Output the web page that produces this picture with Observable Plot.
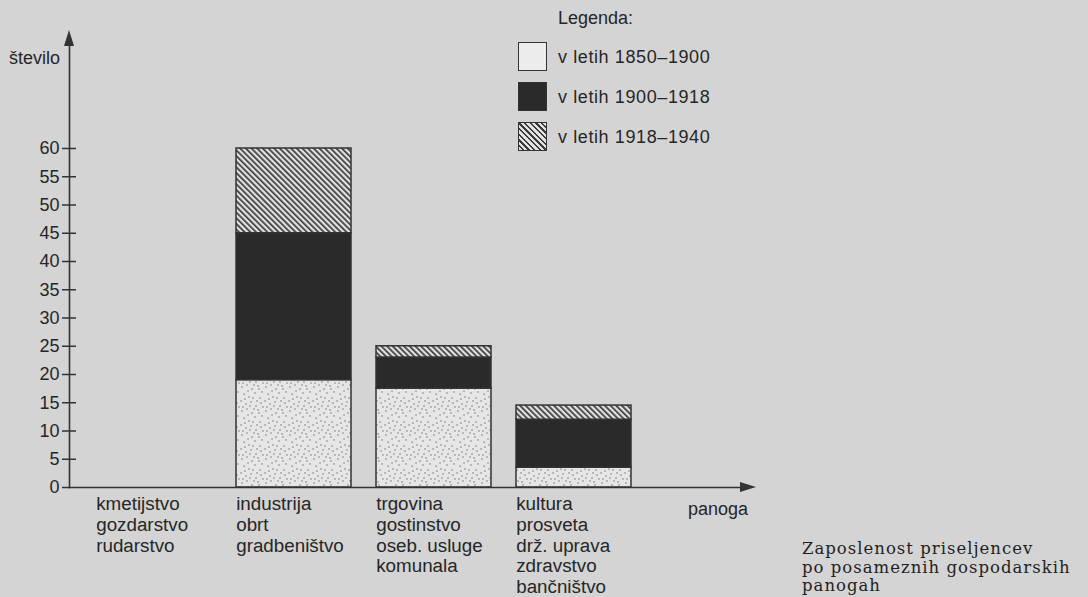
<!DOCTYPE html>
<html><head><meta charset="utf-8">
<script src="https://cdn.jsdelivr.net/npm/d3@7"></script>
<script src="https://cdn.jsdelivr.net/npm/@observablehq/plot@0.6"></script>
<style>
body{margin:0;background:#d4d4d4;}
#wrap{position:relative;width:1088px;height:597px;overflow:hidden;font-family:"Liberation Sans",Arial,sans-serif;color:#262626;}
#wrap svg{position:absolute;left:0;top:0;}
.lbl{position:absolute;font-size:18px;line-height:18px;white-space:nowrap;}
.sw{position:absolute;width:27px;height:27px;border:1.5px solid #333;}
.leg{position:absolute;font-size:18px;line-height:18px;letter-spacing:0.6px;white-space:nowrap;}
#caption{position:absolute;left:802px;top:540px;font-family:"DejaVu Serif",serif;font-size:16.5px;line-height:18.6px;letter-spacing:1px;color:#1f1f1f;white-space:nowrap;}
</style></head><body><div id="wrap"></div>
<script>
const categories = ["kmetijstvo", "industrija", "trgovina", "kultura"];
const categoryLines = [
  ["kmetijstvo", "gozdarstvo", "rudarstvo"],
  ["industrija", "obrt", "gradbeništvo"],
  ["trgovina", "gostinstvo", "oseb. usluge", "komunala"],
  ["kultura", "prosveta", "drž. uprava", "zdravstvo", "bančništvo"]
];
const periods = ["v letih 1850–1900", "v letih 1900–1918", "v letih 1918–1940"];
const values1850_1900 = [0, 19, 17.5, 3.5];
const values1900_1918 = [0, 26, 5.5, 8.5];
const values1918_1940 = [0, 15, 2, 2.5];
const yTicks = [0, 5, 10, 15, 20, 25, 30, 35, 40, 45, 50, 55, 60];
const yLabel = "število";
const xLabel = "panoga";
const legendTitle = "Legenda:";
const captionLines = ["Zaposlenost priseljencev", "po posameznih gospodarskih", "panogah"];

const series = [values1850_1900, values1900_1918, values1918_1940];
const table = [];
categories.forEach((c, i) => periods.forEach((p, j) => table.push({cat: c, period: p, value: series[j][i]})));
const catTable = categories.map((c, i) => ({cat: c, label: categoryLines[i].join("\n")}));

const W = 1088, H = 597, mL = 69, mT = 40, mR = 346, mB = 110;
const ink = "#333";

const plot = Plot.plot({
  width: W, height: H, marginLeft: mL, marginTop: mT, marginRight: mR, marginBottom: mB,
  style: {background: "transparent", fontFamily: "'Liberation Sans', Arial, sans-serif", fontSize: "18px", color: "#262626", overflow: "visible"},
  x: {type: "band", domain: categories, range: [96, 634.6], paddingInner: 0.18, paddingOuter: 0, align: 0, axis: null},
  y: {domain: [0, 60], range: [487, 148], axis: null},
  color: {domain: periods, range: ["url(#dots)", "url(#solid)", "url(#hatch)"]},
  marks: [
    Plot.barY(table.filter(d => d.value > 0), {x: "cat", y: "value", fill: "period", stroke: ink, strokeWidth: 1.5}),
    Plot.axisY(yTicks, {label: null, tickSize: 7, tickPadding: 3, stroke: ink, strokeWidth: 1.5, fontSize: 18, fill: "#262626"}),
    Plot.axisY(yTicks.filter(d => d > 0), {label: null, tickSize: 7, text: null, dx: 7, stroke: ink, strokeWidth: 1.5}),
    Plot.frame({anchor: "left", stroke: ink, strokeWidth: 1.6}),
    Plot.frame({anchor: "bottom", stroke: ink, strokeWidth: 1.6}),
    Plot.text(catTable, {x: "cat", y: 0, text: "label", textAnchor: "start", lineAnchor: "top", dx: -57.8, dy: 8, lineHeight: 1.1, fontSize: 18.8, fill: "#262626", style: "letter-spacing:0.4px"})
  ]
});

const svg = d3.select(plot);
const defs = svg.insert("defs", ":first-child");
// stipple pattern
const dots = defs.append("pattern").attr("id", "dots").attr("patternUnits", "userSpaceOnUse").attr("width", 24).attr("height", 24);
dots.append("rect").attr("width", 24).attr("height", 24).attr("fill", "#e6e6e6");
const dotPos = [[2,3],[7,1],[12,5],[18,2],[22,8],[4,10],[9,13],[15,9],[20,14],[1,17],[6,20],[11,18],[16,22],[21,19],[13,14],[3,23],[8,7],[19,5],[23,23],[10,22],[14,1],[17,17],[5,15]];
dots.selectAll("circle").data(dotPos).join("circle").attr("cx", d => d[0]).attr("cy", d => d[1]).attr("r", 0.75).attr("fill", "#707070");
const solid = defs.append("pattern").attr("id", "solid").attr("patternUnits", "userSpaceOnUse").attr("width", 10).attr("height", 10);
solid.append("rect").attr("width", 10).attr("height", 10).attr("fill", "#2a2a2a");
const hatch = defs.append("pattern").attr("id", "hatch").attr("patternUnits", "userSpaceOnUse").attr("width", 4).attr("height", 4).attr("patternTransform", "rotate(-45)");
hatch.append("rect").attr("width", 4).attr("height", 4).attr("fill", "#e2e2e2");
hatch.append("rect").attr("width", 1.7).attr("height", 4).attr("fill", "#3a3a3a");

// arrowheads
const xEnd = W - mR, yEnd = mT, yBase = H - mB;
svg.append("path").attr("d", `M${mL},${yEnd - 10}L${mL - 5},${yEnd + 6}L${mL + 5},${yEnd + 6}Z`).attr("fill", ink);
svg.append("path").attr("d", `M${xEnd + 14},${yBase}L${xEnd - 2},${yBase - 5}L${xEnd - 2},${yBase + 5}Z`).attr("fill", ink);

const wrap = d3.select("#wrap");
wrap.node().appendChild(plot);

wrap.append("div").attr("class", "lbl").style("left", "9px").style("top", "49px").text(yLabel);
wrap.append("div").attr("class", "lbl").style("left", "688px").style("top", "500px").text(xLabel);
wrap.append("div").attr("class", "lbl").style("left", "558px").style("top", "9px").text(legendTitle);
const swFill = ["#ececec", "#2a2a2a", "repeating-linear-gradient(45deg, #e2e2e2 0px, #e2e2e2 2.2px, #3a3a3a 2.2px, #3a3a3a 4px)"];
periods.forEach((p, i) => {
  wrap.append("div").attr("class", "sw").style("left", "518px").style("top", (42 + 40 * i) + "px").style("background", swFill[i]);
  wrap.append("div").attr("class", "leg").style("left", "558px").style("top", (48 + 40 * i) + "px").text(p);
});
wrap.append("div").attr("id", "caption").html(captionLines.join("<br>"));
</script>
</body></html>
